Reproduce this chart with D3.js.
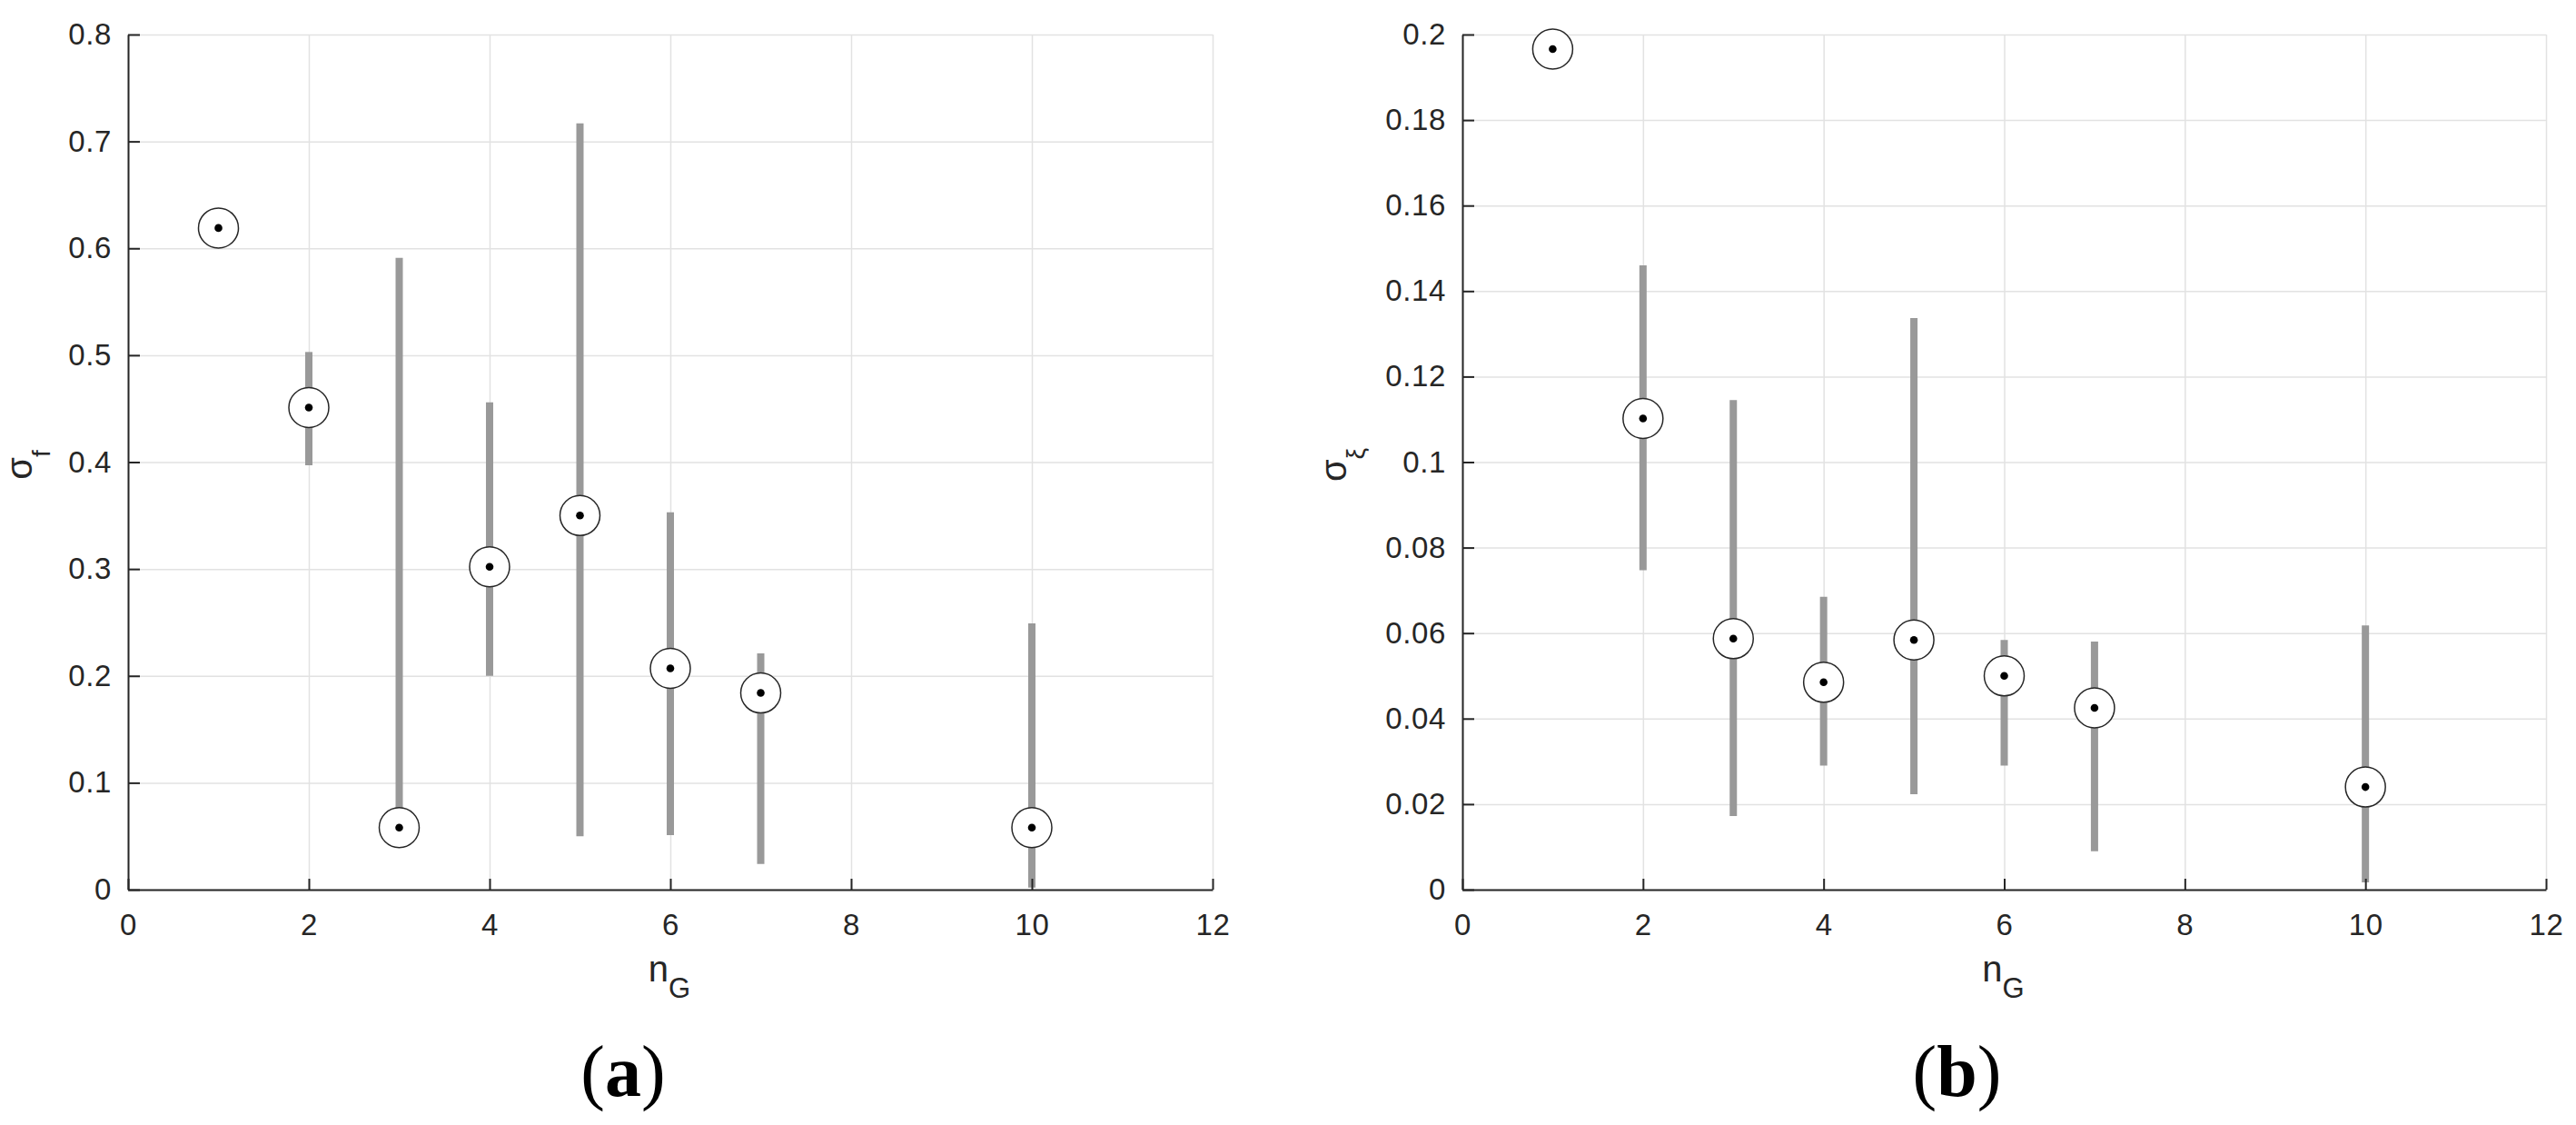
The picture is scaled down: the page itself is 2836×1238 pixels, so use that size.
<!DOCTYPE html>
<html>
<head>
<meta charset="utf-8">
<script src="https://cdn.jsdelivr.net/npm/d3@7"></script>
<style>
  html, body { margin: 0; padding: 0; background: #fff; }
  svg { display: block; }
  .tick text { font-family: "Liberation Sans", Arial, sans-serif; font-size: 33px; letter-spacing: 0.6px; fill: #262626; }
</style>
</head>
<body>
<div id="chart"></div>
<script>
// --- Data ---
const nG = [1, 2, 3, 4, 5, 6, 7, 10];

// (a) sigma_f
const sigmaF     = [0.619, 0.451, 0.058, 0.302, 0.350, 0.207, 0.184, 0.058];
const sigmaFLow  = [null, 0.397, 0.058, 0.200, 0.050, 0.051, 0.024, 0.002];
const sigmaFHigh = [null, 0.503, 0.591, 0.456, 0.717, 0.353, 0.221, 0.249];

// (b) sigma_xi
const sigmaXi     = [0.1966, 0.1102, 0.0587, 0.0485, 0.0584, 0.0500, 0.0425, 0.0240];
const sigmaXiLow  = [null, 0.0747, 0.0172, 0.0290, 0.0223, 0.0290, 0.0090, 0.0017];
const sigmaXiHigh = [null, 0.1460, 0.1145, 0.0685, 0.1337, 0.0584, 0.0580, 0.0618];

const xTicks = [0, 2, 4, 6, 8, 10, 12];
const yTicksA = [0, 0.1, 0.2, 0.3, 0.4, 0.5, 0.6, 0.7, 0.8];
const yTicksB = [0, 0.02, 0.04, 0.06, 0.08, 0.1, 0.12, 0.14, 0.16, 0.18, 0.2];

// --- Page ---
const W = 2836, H = 1238;
const svg = d3.select("#chart").append("svg")
  .attr("width", W).attr("height", H)
  .attr("viewBox", `0 0 ${W} ${H}`);

const plotTop = 38, plotBottom = 979;
const axisColor = "#262626";

function panel(opts) {
  const { left, right, yMax, yTicks, vals, lows, highs, sub, labelOffset, tag } = opts;

  const x = d3.scaleLinear().domain([0, 12]).range([left, right]);
  const y = d3.scaleLinear().domain([0, yMax]).range([plotBottom, plotTop]);
  const fmt = d3.format("~g");
  const g = svg.append("g");

  // grid
  g.append("g")
    .attr("transform", `translate(0,${plotBottom})`)
    .call(d3.axisBottom(x).tickValues(xTicks).tickSize(-(plotBottom - plotTop)).tickFormat(""))
    .call(s => s.select(".domain").remove())
    .selectAll("line").attr("stroke", "#e2e2e2").attr("stroke-width", 1.5);

  g.append("g")
    .attr("transform", `translate(${left},0)`)
    .call(d3.axisLeft(y).tickValues(yTicks).tickSize(-(right - left)).tickFormat(""))
    .call(s => s.select(".domain").remove())
    .selectAll("line").attr("stroke", "#e2e2e2").attr("stroke-width", 1.5);

  const pts = nG.map((n, i) => ({ n, v: vals[i], lo: lows[i], hi: highs[i] }));

  // bars
  g.selectAll(".bar")
    .data(pts.filter(d => d.lo !== null))
    .join("line")
    .attr("x1", d => x(d.n)).attr("x2", d => x(d.n))
    .attr("y1", d => y(d.lo)).attr("y2", d => y(d.hi))
    .attr("stroke", "#999999")
    .attr("stroke-width", 8);

  // markers
  g.selectAll(".ring")
    .data(pts)
    .join("circle")
    .attr("cx", d => x(d.n)).attr("cy", d => y(d.v))
    .attr("r", 22)
    .attr("fill", "#fff")
    .attr("stroke", axisColor)
    .attr("stroke-width", 1.5);

  g.selectAll(".dot")
    .data(pts)
    .join("circle")
    .attr("cx", d => x(d.n)).attr("cy", d => y(d.v))
    .attr("r", 4.3)
    .attr("fill", "#000");

  // axes
  const ax = g.append("g")
    .attr("transform", `translate(0,${plotBottom})`)
    .call(d3.axisBottom(x).tickValues(xTicks).tickSizeInner(-12).tickSizeOuter(0).tickPadding(27).tickFormat(fmt));
  ax.selectAll("line, path").attr("stroke", axisColor).attr("stroke-width", 2);

  const ay = g.append("g")
    .attr("transform", `translate(${left},0)`)
    .call(d3.axisLeft(y).tickValues(yTicks).tickSizeInner(-13).tickSizeOuter(0).tickPadding(18).tickFormat(fmt));
  ay.selectAll("line, path").attr("stroke", axisColor).attr("stroke-width", 2);

  // x label n_G
  const xl = g.append("text")
    .attr("x", (left + right) / 2 - 1)
    .attr("y", 1080)
    .attr("text-anchor", "middle")
    .style("font-family", "'Liberation Sans', Arial, sans-serif")
    .style("font-size", "40px")
    .style("fill", axisColor);
  xl.append("tspan").text("n");
  xl.append("tspan").attr("dy", 18).style("font-size", "31px").text("G");

  // y label sigma_sub
  const yl = g.append("text")
    .attr("transform", `translate(${left - labelOffset},${(plotTop + plotBottom) / 2 + 3}) rotate(-90)`)
    .attr("text-anchor", "middle")
    .style("font-family", "'Liberation Sans', Arial, sans-serif")
    .style("font-size", "40px")
    .style("fill", axisColor);
  yl.append("tspan").text("σ");
  yl.append("tspan").attr("dy", 20).style("font-size", "28px").text(sub);

  // panel tag
  const t = svg.append("text")
    .attr("x", (left + right) / 2 - 52)
    .attr("y", 1206)
    .attr("text-anchor", "middle")
    .style("font-family", "'Liberation Serif', 'Times New Roman', serif")
    .style("font-size", "80px")
    .style("fill", "#000");
  t.append("tspan").text("(");
  t.append("tspan").style("font-weight", "bold").text(tag);
  t.append("tspan").text(")");
}

panel({ left: 141, right: 1335, yMax: 0.8, yTicks: yTicksA,
        vals: sigmaF, lows: sigmaFLow, highs: sigmaFHigh, sub: "f", labelOffset: 106, tag: "a" });
panel({ left: 1610, right: 2803, yMax: 0.2, yTicks: yTicksB,
        vals: sigmaXi, lows: sigmaXiLow, highs: sigmaXiHigh, sub: "ξ", labelOffset: 128, tag: "b" });
</script>
</body>
</html>
